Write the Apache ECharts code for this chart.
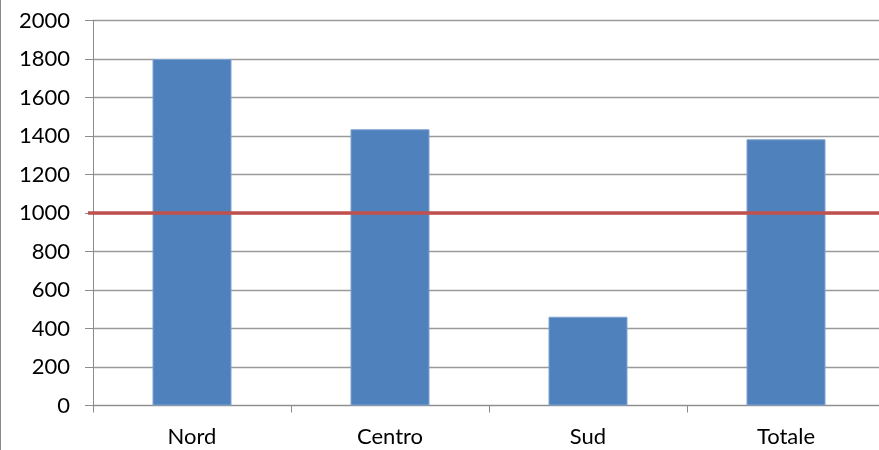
<!DOCTYPE html>
<html><head><meta charset="utf-8">
<script src="https://cdn.jsdelivr.net/npm/echarts@6/dist/echarts.min.js"></script>
<style>html,body{margin:0;padding:0;background:#fff;overflow:hidden}
#c{width:879px;height:450px;position:absolute;left:0;top:0}
#edge{position:absolute;left:0;top:0;width:1px;height:450px;background:#8a8a8a}</style>
</head><body><div id="c"></div><div id="edge"></div>
<script>
const categories = ['Nord', 'Centro', 'Sud', 'Totale'];
const values = [1800, 1435, 461, 1383];
const threshold = 1000;
const yTicks = {min: 0, max: 2000, interval: 200};

const chart = echarts.init(document.getElementById('c'));
const font = 'Lato, "Open Sans", sans-serif';
chart.setOption({
  animation: false,
  grid: [
    {left: 93, width: 792, top: 20.5, bottom: 44.5, outerBoundsMode: 'none', containLabel: false},
    {left: 88, right: 0, top: 20.5, bottom: 44.5, outerBoundsMode: 'none', containLabel: false}
  ],
  xAxis: [
    {type: 'category', data: categories, gridIndex: 0,
     axisLine: {lineStyle: {color: '#8c8c8c', width: 1}},
     axisTick: {show: true, length: 7, alignWithLabel: false, lineStyle: {color: '#8c8c8c'}},
     axisLabel: {color: '#000', fontSize: 22, fontFamily: font, margin: 20}},
    {type: 'value', gridIndex: 1, min: 0, max: 1, show: false}
  ],
  yAxis: [
    {type: 'value', gridIndex: 0, min: yTicks.min, max: yTicks.max, interval: yTicks.interval,
     axisLine: {show: true, lineStyle: {color: '#8c8c8c', width: 1}},
     axisTick: {show: true, length: 8, lineStyle: {color: '#8c8c8c'}},
     axisLabel: {color: '#000', fontSize: 22, fontFamily: font, margin: 23,
                 formatter: v => String(v)},
     splitLine: {lineStyle: {color: '#9a9a9a', width: 1.3}}},
    {type: 'value', gridIndex: 1, min: yTicks.min, max: yTicks.max, show: false}
  ],
  series: [
    {type: 'bar', data: values, xAxisIndex: 0, yAxisIndex: 0, barWidth: 79,
     itemStyle: {color: '#4F81BD', borderColor: '#7fa3d0', borderWidth: 1}},
    {type: 'line', data: [[0, threshold], [1, threshold]], xAxisIndex: 1, yAxisIndex: 1,
     symbol: 'none', lineStyle: {color: '#C0504D', width: 3.5}, z: 5}
  ]
});
</script></body></html>
